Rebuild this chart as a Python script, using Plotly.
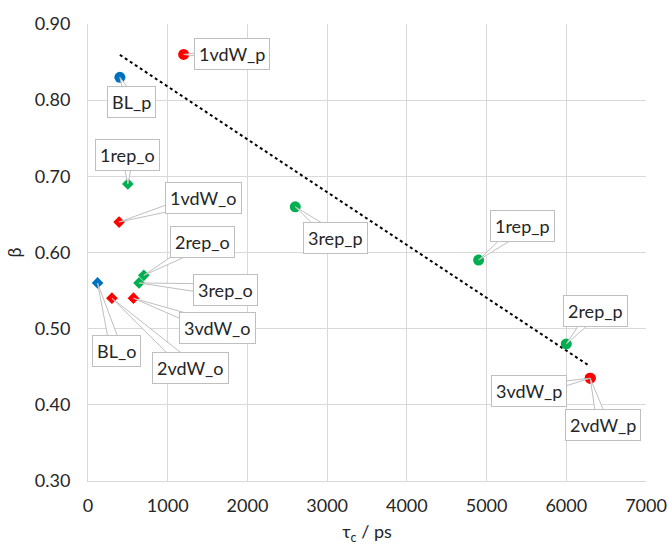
import numpy as np
import plotly.graph_objects as go

# Correlation time (ps) and stretching exponent beta for each system
names_p = ["BL_p", "1vdW_p", "3rep_p", "1rep_p", "2rep_p", "3vdW_p", "2vdW_p"]
tau_p = [400, 1200, 2600, 4900, 6000, 6300, 6300]
beta_p = [0.83, 0.86, 0.66, 0.59, 0.48, 0.435, 0.435]

names_o = ["BL_o", "2vdW_o", "3vdW_o", "1vdW_o", "1rep_o", "3rep_o", "2rep_o"]
tau_o = [120, 300, 570, 390, 500, 640, 700]
beta_o = [0.56, 0.54, 0.54, 0.64, 0.69, 0.56, 0.57]

# callout box offsets (px) from each point
offsets = {
    "BL_p": (12, 25), "1vdW_p": (48, 0), "3rep_p": (40, 31), "1rep_p": (44, -34),
    "2rep_p": (29, -33), "3vdW_p": (-61, 13), "2vdW_p": (13, 47),
    "BL_o": (19, 68), "2vdW_o": (79, 70), "3vdW_o": (84, 30), "1vdW_o": (84, -24),
    "1rep_o": (0, -29), "3rep_o": (86, 7), "2rep_o": (59, -33),
}

BLUE, RED, GREEN = "#0070C0", "#FF0000", "#00B050"


def colour(name):
    if name.startswith("BL"):
        return BLUE
    if "vdW" in name:
        return RED
    return GREEN


FONT = "Lato, 'Open Sans', sans-serif"
TXT = "#262626"
GRID = "#D9D9D9"

fig = go.Figure()

# linear trend over the _p systems
k, b = np.polyfit(tau_p, beta_p, 1)
xt = np.array([min(tau_p), max(tau_p)])
fig.add_trace(go.Scatter(x=xt, y=k * xt + b, mode="lines",
                         line=dict(color="black", width=2, dash="dot"),
                         showlegend=False, hoverinfo="skip"))

fig.add_trace(go.Scatter(x=tau_p, y=beta_p, mode="markers",
                         marker=dict(symbol="circle", size=11,
                                     color=[colour(n) for n in names_p]),
                         showlegend=False))
fig.add_trace(go.Scatter(x=tau_o, y=beta_o, mode="markers",
                         marker=dict(symbol="diamond", size=9,
                                     color=[colour(n) for n in names_o]),
                         showlegend=False))

shapes = []
annotations = []
for names, xs, ys in ((names_p, tau_p, beta_p), (names_o, tau_o, beta_o)):
    for n, x, y in zip(names, xs, ys):
        ax, ay = offsets[n]
        # wedge-shaped pointer from the box to the point
        L = max(np.hypot(ax, ay), 1)
        px, py = -ay / L * 6, ax / L * 6
        x1, y1 = ax + px, -(ay + py)
        x2, y2 = ax - px, -(ay - py)
        shapes.append(dict(type="path", xref="x", yref="y",
                           xsizemode="pixel", ysizemode="pixel",
                           xanchor=x, yanchor=y,
                           path=f"M0,0 L{x1:.1f},{y1:.1f} L{x2:.1f},{y2:.1f} Z",
                           fillcolor="white", line=dict(color="#BFBFBF", width=1),
                           layer="above"))
        annotations.append(dict(x=x, y=y, xref="x", yref="y", text=n,
                                showarrow=True, arrowhead=0, arrowwidth=0.1,
                                arrowcolor="rgba(0,0,0,0)",
                                ax=ax, ay=ay, font=dict(family=FONT, size=18, color=TXT),
                                bgcolor="white", bordercolor="#BFBFBF",
                                borderwidth=1, borderpad=4))

fig.update_layout(
    width=668, height=545,
    margin=dict(l=88, r=22, t=24, b=64),
    paper_bgcolor="white", plot_bgcolor="white",
    font=dict(family=FONT, size=18, color=TXT),
    shapes=shapes, annotations=annotations,
    xaxis=dict(range=[0, 7000], dtick=1000, tick0=0, showgrid=True, gridcolor=GRID,
               gridwidth=1, zeroline=False, showline=True, linecolor=GRID,
               automargin=False,
               ticks="", ticklabelstandoff=8, tickfont=dict(size=18, color=TXT),
               title=dict(text="τ<sub>c</sub> / ps", font=dict(size=18, color=TXT),
                          standoff=15)),
    yaxis=dict(range=[0.3, 0.9], dtick=0.1, tick0=0.3, tickformat=".2f", showgrid=True,
               gridcolor=GRID, gridwidth=1, zeroline=False, showline=True, linecolor=GRID,
               automargin=False,
               ticks="", ticklabelstandoff=13, tickfont=dict(size=18, color=TXT),
               title=dict(text="β", font=dict(size=18, color=TXT), standoff=8)),
)

fig.write_html("out.html")
